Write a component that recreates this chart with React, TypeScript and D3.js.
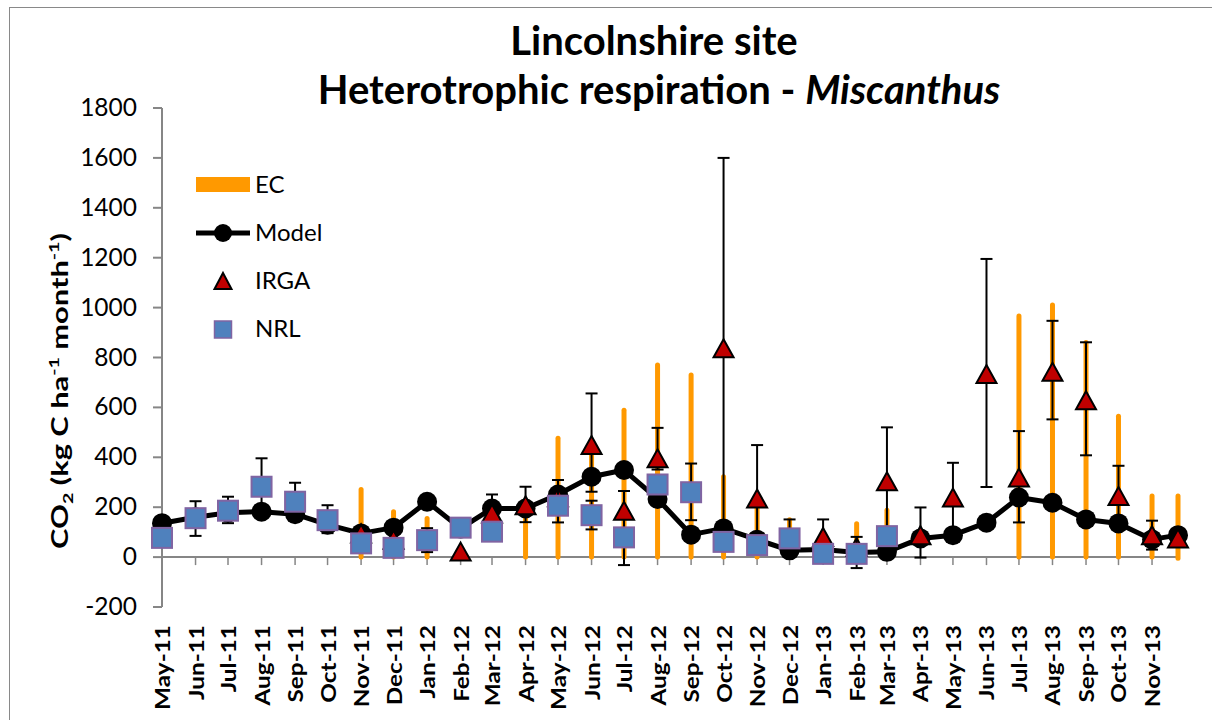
import React from "react";
import * as d3 from "d3";

const monthLabels = ["May-11","Jun-11","Jul-11","Aug-11","Sep-11","Oct-11","Nov-11","Dec-11","Jan-12","Feb-12","Mar-12","Apr-12","May-12","Jun-12","Jul-12","Aug-12","Sep-12","Oct-12","Nov-12","Dec-12","Jan-13","Feb-13","Mar-13","Apr-13","May-13","Jun-13","Jul-13","Aug-13","Sep-13","Oct-13","Nov-13"];
const monthStarts = ["2011-05-01","2011-06-01","2011-07-01","2011-08-01","2011-09-01","2011-10-01","2011-11-01","2011-12-01","2012-01-01","2012-02-01","2012-03-01","2012-04-01","2012-05-01","2012-06-01","2012-07-01","2012-08-01","2012-09-01","2012-10-01","2012-11-01","2012-12-01","2013-01-01","2013-02-01","2013-03-01","2013-04-01","2013-05-01","2013-06-01","2013-07-01","2013-08-01","2013-09-01","2013-10-01","2013-11-01"];
const pointDates = [...monthStarts, "2013-11-25"];

const model = [136,160,178,182,172,130,95,118,222,115,195,195,251,322,349,233,90,115,70,27,30,18,21,75,88,138,239,218,151,135,71,88];
const irga = [null,null,null,null,null,null,95,70,null,22,175,208,240,449,186,396,null,837,235,null,81,40,304,88,239,734,319,743,629,245,88,75];
const irgaLow = [null,null,null,null,null,null,null,null,null,null,100,140,null,262,-32,351,null,80,20,null,10,null,88,-2,100,281,139,552,408,124,30,null];
const irgaHigh = [null,null,null,null,null,null,null,null,null,null,251,282,null,656,265,518,null,1600,449,null,151,null,520,199,378,1195,505,947,861,366,146,null];
const nrl = [77,156,186,282,222,148,55,37,68,118,102,null,206,168,79,291,260,61,48,75,13,13,84,null,null,null,null,null,null,null,null,null];
const nrlLow = [null,85,136,168,146,96,null,null,20,null,null,null,139,111,null,null,148,null,null,0,null,-44,null,null,null,null,null,null,null,null,null,null];
const nrlHigh = [null,224,242,396,298,208,null,null,116,null,null,null,309,226,null,null,375,null,null,151,null,81,null,null,null,null,null,null,null,null,null,null];
const ecLow = [null,null,null,null,null,null,0,0,0,null,null,0,0,0,0,0,0,0,0,0,null,0,0,null,null,null,0,0,0,0,0,-5];
const ecHigh = [null,null,null,null,null,null,271,182,155,null,null,180,476,430,589,770,730,322,200,150,null,134,188,null,null,null,966,1010,860,565,245,245];
const yTicks = [-200,0,200,400,600,800,1000,1200,1400,1600,1800];

const FONT = "Lato, 'Open Sans', sans-serif";
const ORANGE = "#FF9900";
const RED = "#C00000";
const BLUE = "#4F81BD";
const PURPLE = "#8064A2";
const AXIS = "#868686";

export default function App() {
  const parse = d3.timeParse("%Y-%m-%d");
  const dates = pointDates.map((d) => parse(d) as Date);
  const ticks = monthStarts.map((d) => parse(d) as Date);
  const x = d3.scaleTime().domain([dates[0], dates[dates.length - 1]]).range([162, 1178]);
  const y = d3.scaleLinear().domain([-200, 1800]).range([607, 108]);

  const line = d3
    .line<number>()
    .x((_, i) => x(dates[i]))
    .y((d) => y(d));

  const tri = (w: number, h: number) => `M0,${-h / 2}L${w / 2},${h / 2}L${-w / 2},${h / 2}Z`;

  const errBar = (i: number, lo: number | null, hi: number | null, key: string, val: number | null) => {
    if (lo == null && hi == null) return null;
    const cx = x(dates[i]);
    const top = y(hi ?? (val as number));
    const bot = y(lo ?? (val as number));
    return (
      <g key={key} stroke="#000" strokeWidth={2}>
        <line x1={cx} x2={cx} y1={top} y2={bot} />
        {hi != null && <line x1={cx - 6} x2={cx + 6} y1={top} y2={top} />}
        {lo != null && <line x1={cx - 6} x2={cx + 6} y1={bot} y2={bot} />}
      </g>
    );
  };

  return (
    <svg width={1212} height={720} style={{ position: "absolute", left: 0, top: 0, background: "#fff" }} fontFamily={FONT}>
      <rect x={9.5} y={7.5} width={1260} height={760} fill="#fff" stroke="#898989" strokeWidth={1} />

      {/* Title */}
      <text x={654} y={55} textAnchor="middle" fontSize={40} fontWeight="bold">Lincolnshire site</text>
      <text x={659} y={104} textAnchor="middle" fontSize={40} fontWeight="bold">
        Heterotrophic respiration - <tspan fontStyle="italic">Miscanthus</tspan>
      </text>

      {/* Y axis */}
      <line x1={162} x2={162} y1={y(1800)} y2={y(-200)} stroke={AXIS} strokeWidth={2} />
      {yTicks.map((t) => (
        <g key={t}>
          <line x1={153} x2={162} y1={y(t)} y2={y(t)} stroke={AXIS} strokeWidth={2} />
          <text x={137} y={y(t) + 8} textAnchor="end" fontSize={24.5}>{t}</text>
        </g>
      ))}
      <text transform={`translate(68,391) rotate(-90) scale(1.4,1)`} textAnchor="middle" fontSize={22} fontWeight="bold">
        CO<tspan fontSize={14} dy={5}>2</tspan>
        <tspan dy={-5}> (kg C ha</tspan>
        <tspan fontSize={14} dy={-9}>-1</tspan>
        <tspan dy={9}> month</tspan>
        <tspan fontSize={14} dy={-9}>-1</tspan>
        <tspan dy={9}>)</tspan>
      </text>

      {/* X axis */}
      <line x1={162} x2={1178} y1={y(0)} y2={y(0)} stroke={AXIS} strokeWidth={2} />
      {ticks.map((t, i) => (
        <g key={i}>
          <line x1={x(t)} x2={x(t)} y1={y(0)} y2={y(0) + 8} stroke={AXIS} strokeWidth={1.5} />
          <text transform={`translate(${x(t) + 8},625) rotate(-90) scale(1.16,1)`} textAnchor="end" fontSize={21} fontWeight="bold">
            {monthLabels[i]}
          </text>
        </g>
      ))}

      {/* EC ranges */}
      {ecHigh.map((h, i) =>
        h == null ? null : (
          <line key={`ec${i}`} x1={x(dates[i])} x2={x(dates[i])} y1={y(h)} y2={y(ecLow[i] as number)} stroke={ORANGE} strokeWidth={5} strokeLinecap="round" />
        )
      )}

      {/* Model */}
      <path d={line(model) as string} fill="none" stroke="#000" strokeWidth={5} strokeLinejoin="round" />
      {model.map((v, i) => (
        <circle key={`m${i}`} cx={x(dates[i])} cy={y(v)} r={10} fill="#000" />
      ))}

      {/* IRGA */}
      {irga.map((v, i) => errBar(i, irgaLow[i], irgaHigh[i], `ie${i}`, v))}
      {irga.map((v, i) =>
        v == null ? null : (
          <path key={`i${i}`} d={tri(20, 18)} transform={`translate(${x(dates[i])},${y(v)})`} fill={RED} stroke="#000" strokeWidth={2} strokeLinejoin="miter" />
        )
      )}

      {/* NRL */}
      {nrl.map((v, i) => errBar(i, nrlLow[i], nrlHigh[i], `ne${i}`, v))}
      {nrl.map((v, i) =>
        v == null ? null : (
          <rect key={`n${i}`} x={x(dates[i]) - 10} y={y(v) - 10} width={20} height={20} fill={BLUE} stroke={PURPLE} strokeWidth={2} />
        )
      )}

      {/* Legend */}
      <rect x={196} y={177} width={54} height={15} fill={ORANGE} />
      <text x={255} y={193} fontSize={24}>EC</text>
      <line x1={196} x2={250} y1={233} y2={233} stroke="#000" strokeWidth={5} />
      <circle cx={223} cy={233} r={9} fill="#000" />
      <text x={255} y={241} fontSize={24}>Model</text>
      <path d={tri(17, 16)} transform="translate(223,281)" fill={RED} stroke="#000" strokeWidth={2} />
      <text x={255} y={289} fontSize={24}>IRGA</text>
      <rect x={214.5} y={321} width={17} height={17} fill={BLUE} stroke={PURPLE} strokeWidth={1.5} />
      <text x={255} y={337} fontSize={24}>NRL</text>
    </svg>
  );
}
